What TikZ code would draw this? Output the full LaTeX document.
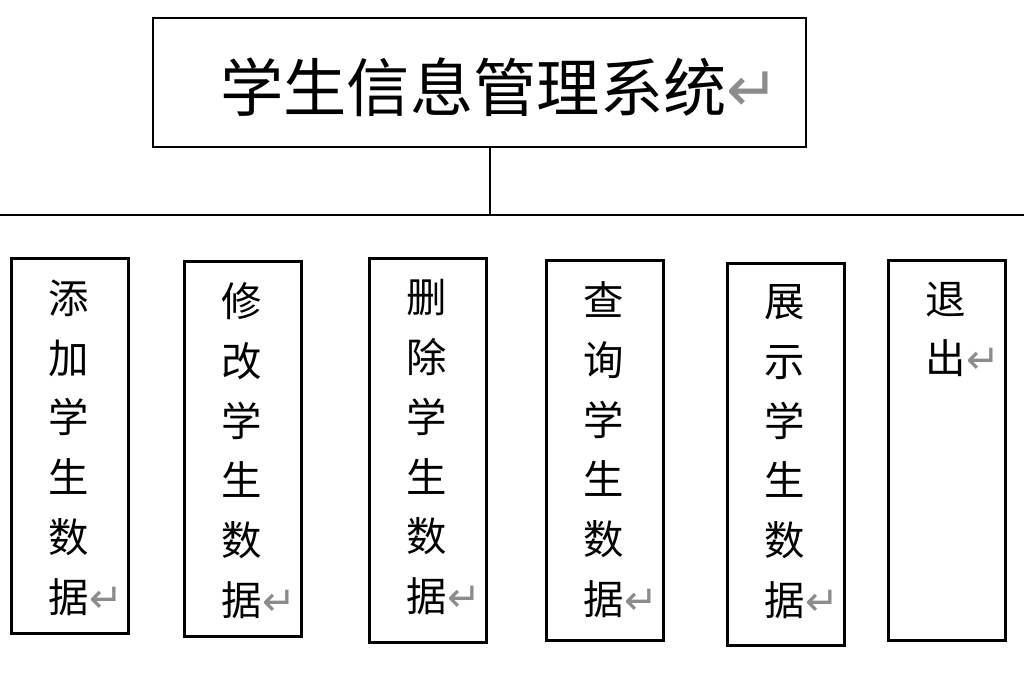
\documentclass[tikz,border=0pt]{standalone}
\usepackage{fontspec}
\setmainfont{Noto Sans CJK SC}
\newfontfamily\symfont{DejaVu Sans}
\usetikzlibrary{positioning}
\newcommand{\retmark}{{\symfont\color{black!45}\char"21B5}}

\begin{document}
\begin{tikzpicture}[
    % Node styles
    titlebox/.style={
        rectangle,
        draw=black,
        line width=0.75pt,
        minimum width=6.53cm,
        minimum height=1.29cm
    },
    funcbox/.style={
        rectangle,
        draw=black,
        line width=0.75pt,
        minimum width=1.17cm,
        anchor=north west
    },
    functext/.style={
        anchor=north west,
        align=left,
        font=\fontsize{11.5pt}{17pt}\selectfont,
        inner sep=0pt
    }
]
\useasboundingbox (0,0) rectangle (10.24,6.8);

% === Title ===
\node[titlebox] (sys) at (4.795,5.975) {};
\node[font=\fontsize{18pt}{22pt}\selectfont] (systext) at (5.0,5.93) {学生信息管理系统\retmark};

% === Bus line ===
\coordinate (busL) at (0,4.65);
\coordinate (busR) at (10.24,4.65);
\coordinate (busM) at (4.9,4.65);
\draw[line width=0.75pt] (busL) -- (busR);
\draw[line width=0.75pt] (sys.south -| busM) -- (busM);

% === Function boxes ===
\node[funcbox, minimum height=3.75cm] (add)  at (0.10,4.23) {};
\node[funcbox, minimum height=3.75cm] (mod)  at (1.83,4.20) {};
\node[funcbox, minimum height=3.84cm] (del)  at (3.68,4.23) {};
\node[funcbox, minimum height=3.80cm] (qry)  at (5.45,4.21) {};
\node[funcbox, minimum height=3.82cm] (show) at (7.26,4.18) {};
\node[funcbox, minimum height=3.80cm] (quit) at (8.87,4.21) {};

\node[functext] (addt)  at ([xshift=0.38cm,yshift=-0.22cm]add.north west)  {添\\加\\学\\生\\数\\据\retmark};
\node[functext] (modt)  at ([xshift=0.38cm,yshift=-0.22cm]mod.north west)  {修\\改\\学\\生\\数\\据\retmark};
\node[functext] (delt)  at ([xshift=0.38cm,yshift=-0.22cm]del.north west)  {删\\除\\学\\生\\数\\据\retmark};
\node[functext] (qryt)  at ([xshift=0.38cm,yshift=-0.22cm]qry.north west)  {查\\询\\学\\生\\数\\据\retmark};
\node[functext] (showt) at ([xshift=0.38cm,yshift=-0.22cm]show.north west) {展\\示\\学\\生\\数\\据\retmark};
\node[functext] (quitt) at ([xshift=0.38cm,yshift=-0.22cm]quit.north west) {退\\出\retmark};

\end{tikzpicture}
\end{document}
